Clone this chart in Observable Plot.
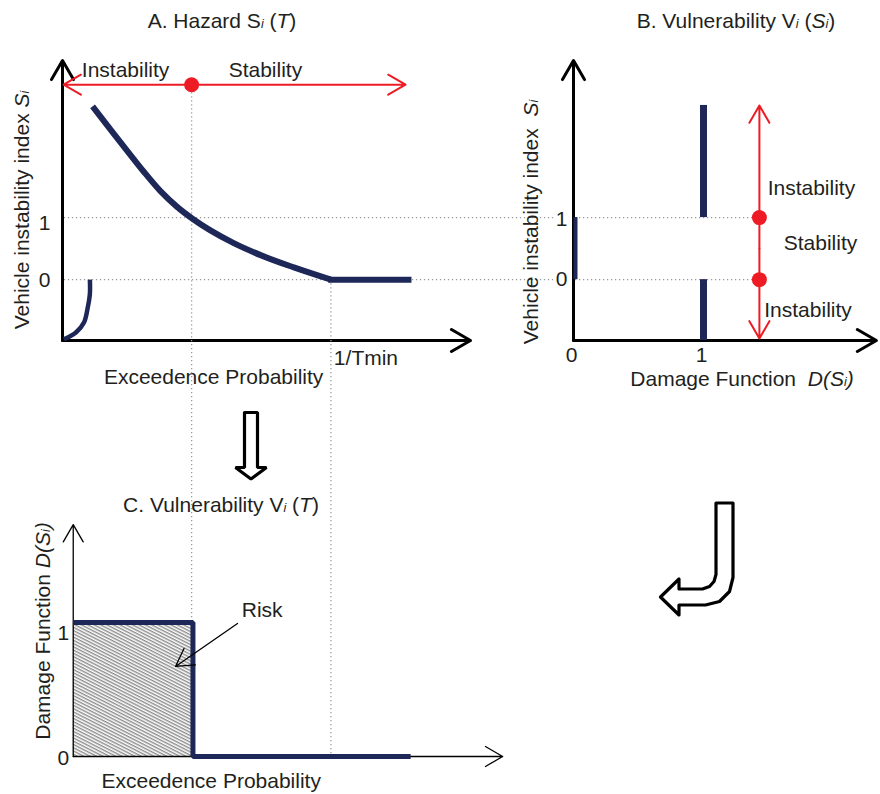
<!DOCTYPE html>
<html><head><meta charset="utf-8">
<script src="https://cdn.jsdelivr.net/npm/d3@7"></script>
<script src="https://cdn.jsdelivr.net/npm/@observablehq/plot@0.6"></script>
<style>
body{margin:0;background:#fff;}
#wrap{position:relative;width:880px;height:794px;font-family:"Liberation Sans",Arial,Helvetica,sans-serif;color:#231f20;overflow:hidden;}
#wrap svg{position:absolute;left:0;top:0;background:transparent;}
.lbl{position:absolute;white-space:nowrap;font-size:21px;line-height:1;transform:translate(-50%,-50%);}
.rot{transform:translate(-50%,-50%) rotate(-90deg);}
.sub{font-size:0.6em;font-style:italic;}
</style></head><body><div id="wrap"></div>
<script>
// ---------------- data ----------------
// Panel A: hazard curve, exceedence probability p (1/Tmin = 1) vs vehicle instability index S
const hazardP = [0.112, 0.179, 0.241, 0.303, 0.365, 0.427, 0.483, 0.551, 0.638, 0.738, 0.862, 1.0];
const hazardS = [2.790, 2.416, 2.075, 1.738, 1.426, 1.172, 0.985, 0.793, 0.588, 0.395, 0.197, 0];
const tailP = [0.99, 1.30];
const tailS = [0, 0];
const lowP = [0.005, 0.05, 0.08, 0.094, 0.102, 0.102];
const lowS = [-0.96, -0.85, -0.69, -0.45, -0.23, 0];
const pStar = 0.481;      // probability where S = 1
const pTmin = 1.0;        // 1/Tmin
const levels = [0, 1];    // stability thresholds of S
const levelLabels = ["0", "1"];
const regimeLabels = ["Instability", "Stability"];
// Panel B: damage function D(S)
const damageValues = [0, 1];
const damageLabels = ["0", "1"];
const bRegimeLabels = ["Instability", "Stability", "Instability"];
// Panel C: vulnerability vs exceedence probability (step)
const stepP = [0.04, 0.486, 0.486, 1.297];
const stepD = [1, 1, 0, 0];
// decorative hollow arrows (outline vertices)
const downArrowX = [244, 257, 257, 266, 250.5, 235, 244, 244];
const downArrowY = [412, 412, 467, 467, 478.5, 467, 467, 412];
const jArrowX = [715.5, 732.5, 732.5, 729, 719, 705, 678.5, 678.5, 660, 678.5, 678.5, 702, 709, 713.5, 715.5, 715.5];
const jArrowY = [502.5, 502.5, 577, 591, 601, 604.5, 604.5, 614.5, 596.5, 578.5, 588.5, 588.5, 586, 581, 574, 502.5];

// ---------------- style ----------------
const W = 880, H = 794;
const font = '"Liberation Sans", Arial, Helvetica, sans-serif';
const ink = "#231f20", navy = "#1d2758", red = "#ed1c24";
const dotted = {stroke: "#9a9a9a", strokeWidth: 1.3, strokeDasharray: "1.3,2.7"};
const txt = {fill: ink, fontSize: 21, fontFamily: font};
const wrap = document.getElementById("wrap");
const one = [0];

function panel(x, y, marks) {
  const svg = Plot.plot({
    width: W, height: H, margin: 0,
    x: {...x, axis: null}, y: {...y, axis: null},
    style: {background: "transparent", fontFamily: font},
    marks
  });
  wrap.appendChild(svg);
  return svg;
}
const pts = (xs, ys) => xs.map((v, i) => ({x: v, y: ys[i]}));

// ---------------- Panel A ----------------
const sTop = 3.53, sBot = -0.98, sArrow = 3.14;
panel({domain: [0, 1.52], range: [62, 470]}, {domain: [sBot, sTop], range: [340, 60]}, [
  Plot.ruleY(levels, {y: d => d, x1: 0.007, x2: 1.84, ...dotted}),
  Plot.ruleX([pStar], {x: d => d, y1: sArrow, y2: sBot, ...dotted}),
  Plot.ruleX([pTmin], {x: d => d, y1: 0, y2: sBot, ...dotted}),
  Plot.arrow(one, {x1: 0, y1: sBot, x2: 0, y2: sTop, stroke: "black", strokeWidth: 3, headLength: 11}),
  Plot.arrow(one, {x1: 0, y1: sBot, x2: 1.52, y2: sBot, stroke: "black", strokeWidth: 3, headLength: 11}),
  Plot.line(pts(hazardP, hazardS), {x: "x", y: "y", curve: "monotone-x", stroke: navy, strokeWidth: 6, strokeLinecap: "butt"}),
  Plot.line(pts(tailP, tailS), {x: "x", y: "y", stroke: navy, strokeWidth: 6, strokeLinecap: "butt"}),
  Plot.line(pts(lowP, lowS), {x: "x", y: "y", curve: "catmull-rom", stroke: navy, strokeWidth: 4.5, strokeLinecap: "butt"}),
  Plot.arrow(one, {x1: pStar, y1: sArrow, x2: 0.004, y2: sArrow, stroke: red, strokeWidth: 2, headLength: 15}),
  Plot.arrow(one, {x1: pStar, y1: sArrow, x2: 1.278, y2: sArrow, stroke: red, strokeWidth: 2, headLength: 15}),
  Plot.dot(one, {x: pStar, y: sArrow, r: 7.5, fill: red}),
  Plot.text(regimeLabels, {text: d => d, x: [0.235, 0.756], y: 3.37, ...txt}),
  Plot.text(levelLabels, {text: d => d, x: -0.067, y: [-0.013, 0.905], ...txt}),
  Plot.text(["1/Tmin"], {text: d => d, x: 1.011, y: -1.27, textAnchor: "start", ...txt}),
  Plot.text(["Exceedence Probability"], {text: d => d, x: 0.563, y: -1.58, ...txt})
]);

// ---------------- Panel B ----------------
const dRed = 1.43;
panel({domain: [0, 2.33], range: [573, 875.9]}, {domain: [sBot, sTop], range: [340, 60]}, [
  Plot.ruleY(levels, {y: d => d, x1: 0.015, x2: dRed, ...dotted}),
  Plot.arrow(one, {x1: 0, y1: sBot, x2: 0, y2: sTop, stroke: "black", strokeWidth: 3, headLength: 11}),
  Plot.arrow(one, {x1: 0, y1: sBot, x2: 2.33, y2: sBot, stroke: "black", strokeWidth: 3, headLength: 11}),
  Plot.ruleX([damageValues[0]], {x: d => d, y1: 0, y2: 1, dx: 2, stroke: navy, strokeWidth: 4}),
  Plot.ruleX([damageValues[1]], {x: d => d, y1: 1, y2: 2.806, stroke: navy, strokeWidth: 7}),
  Plot.ruleX([damageValues[1]], {x: d => d, y1: sBot, y2: 0, stroke: navy, strokeWidth: 7}),
  Plot.arrow(one, {x1: dRed, y1: 0.5, x2: dRed, y2: 2.806, stroke: red, strokeWidth: 2, headLength: 15}),
  Plot.arrow(one, {x1: dRed, y1: 0.5, x2: dRed, y2: -0.947, stroke: red, strokeWidth: 2, headLength: 15}),
  Plot.dot(levels, {x: dRed, y: d => d, r: 7.5, fill: red}),
  Plot.text(bRegimeLabels, {text: d => d, x: [1.83, 1.9, 1.804], y: [1.477, 0.583, -0.496], ...txt}),
  Plot.text(levelLabels, {text: d => d, x: -0.092, y: [0.01, 0.97], ...txt}),
  Plot.text(damageLabels, {text: d => d, x: damageValues.map(d => d - 0.015), y: -1.221, ...txt})
]);

// ---------------- Panel C ----------------
const dTop = 3.104;
const svgC = panel({domain: [0, 1.64], range: [62, 502.2]}, {domain: [0, dTop], range: [756, 340]}, [
  Plot.ruleX([pStar], {x: d => d, y1: dTop, y2: 1, ...dotted}),
  Plot.ruleX([pTmin], {x: d => d, y1: dTop, y2: 0, ...dotted}),
  Plot.rect(one, {x1: stepP[0], x2: stepP[1], y1: 0, y2: 1, fill: "url(#hatch)"}),
  Plot.arrow(one, {x1: 0.04, y1: 0, x2: 0.04, y2: 1.73, stroke: "black", strokeWidth: 1.3, headLength: 23}),
  Plot.arrow(one, {x1: 0.04, y1: 0, x2: 1.64, y2: 0, stroke: "black", strokeWidth: 1.3, headLength: 23}),
  Plot.line(pts(stepP, stepD), {x: "x", y: "y", stroke: navy, strokeWidth: 5, strokeLinejoin: "miter", strokeLinecap: "butt"}),
  Plot.arrow(one, {x1: 0.652, y1: 0.993, x2: 0.421, y2: 0.672, stroke: "black", strokeWidth: 1.3, headLength: 23}),
  Plot.text(["Risk"], {text: d => d, x: 0.744, y: 1.09, ...txt}),
  Plot.text(levelLabels, {text: d => d, x: 0.003, y: [-0.012, 0.918], ...txt}),
  Plot.text(["Exceedence Probability"], {text: d => d, x: 0.554, y: -0.183, ...txt})
]);
const pat = d3.select(svgC).insert("defs", ":first-child")
  .append("pattern").attr("id", "hatch").attr("patternUnits", "userSpaceOnUse")
  .attr("width", 10).attr("height", 2.9).attr("patternTransform", "rotate(27)");
pat.append("rect").attr("width", 10).attr("height", 2.9).attr("fill", "white");
pat.append("rect").attr("width", 10).attr("height", 1.4).attr("fill", "#8c8c8c");

// ---------------- hollow arrows ----------------
panel({domain: [0, W], range: [0, W]}, {domain: [0, H], range: [0, H]}, [
  Plot.line(pts(downArrowX, downArrowY), {x: "x", y: "y", stroke: "black", strokeWidth: 3.2, fill: "white", strokeLinejoin: "miter"}),
  Plot.line(pts(jArrowX, jArrowY), {x: "x", y: "y", stroke: "black", strokeWidth: 3.2, fill: "white", strokeLinejoin: "round"})
]);

// ---------------- mixed-style labels ----------------
function label(html, x, y, rot) {
  const d = document.createElement("div");
  d.className = "lbl" + (rot ? " rot" : "");
  d.style.left = x + "px"; d.style.top = y + "px";
  d.innerHTML = html;
  wrap.appendChild(d);
}
label('A. Hazard S<span class="sub">i</span> (<i>T</i>)', 222, 20);
label('B. Vulnerability V<span class="sub">i</span> (<i>S<span class="sub">i</span></i>)', 736, 20);
label('C. Vulnerability V<span class="sub">i</span> (<i>T</i>)', 221, 504);
label('Vehicle instability index <i>S<span class="sub">i</span></i>', 21, 210, true);
label('Vehicle instability index&nbsp;&nbsp;<i>S<span class="sub">i</span></i>', 530, 222, true);
label('Damage Function&nbsp;&nbsp;<i>D(S<span class="sub">i</span>)</i>', 742, 378);
label('Damage Function <i>D(S<span class="sub">i</span>)</i>', 42, 631, true);
</script></body></html>
